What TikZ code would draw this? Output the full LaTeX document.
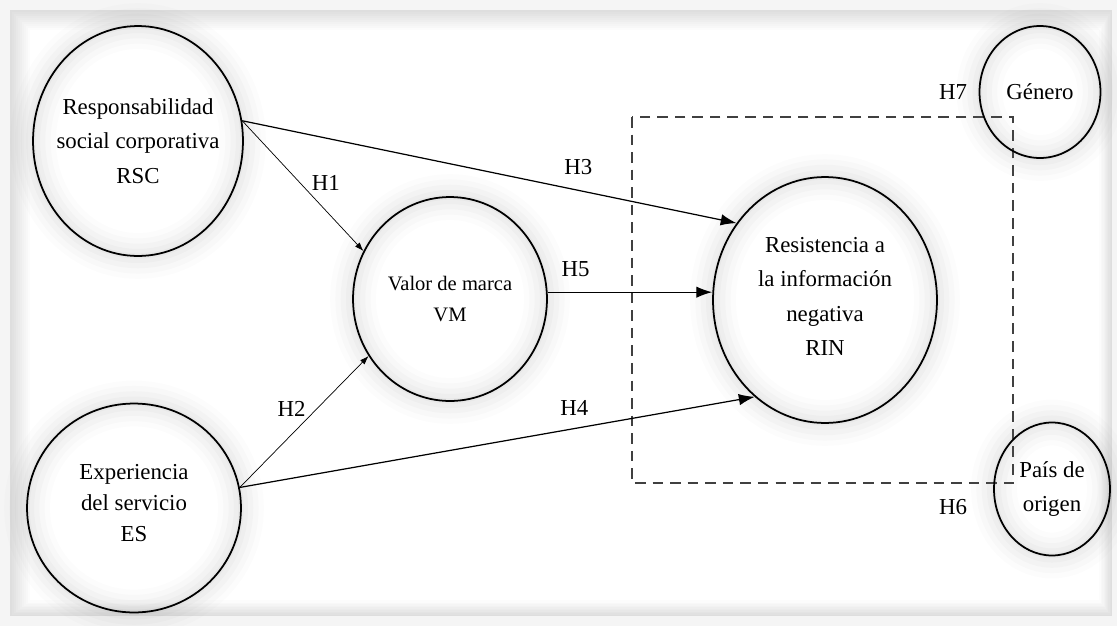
\documentclass[tikz,border=0pt]{standalone}
\usepackage{fontspec}
\setmainfont{Liberation Serif}
\usetikzlibrary{arrows.meta,shapes.geometric,positioning}
\tikzset{>={Latex[length=9pt,width=6.5pt]}}
\tikzset{construct/.style={draw,ellipse,line width=1pt,inner sep=0pt,
    preaction={draw=gray,line width=26pt,opacity=0.025},
    preaction={draw=gray,line width=20pt,opacity=0.03},
    preaction={draw=gray,line width=14pt,opacity=0.035},
    preaction={draw=gray,line width=8pt,opacity=0.04},
    preaction={draw=gray,line width=3pt,opacity=0.05}}}
\tikzset{ctext/.style={align=center,font=\fontsize{13}{19.5}\selectfont}}
\tikzset{hlab/.style={font=\fontsize{13}{15}\selectfont}}
\tikzset{thinarrow/.style={-{Latex[length=5pt,width=3.5pt]},line width=0.4pt}}
\tikzset{mainarrow/.style={->,line width=0.7pt}}
\tikzset{groupbox/.style={draw=black!75,dash pattern=on 6pt off 4pt,line width=0.7pt}}

\begin{document}
\begin{tikzpicture}[x=0.02cm,y=-0.02cm]
  % frame with soft shadow
  \useasboundingbox (0,0) rectangle (1117,626);
  \fill[gray!8] (0,0) rectangle (1117,626);
  \foreach \i [evaluate=\i as \s using 26-2.6*\i] in {0,...,9}
    \fill[gray!\s] (10+2*\i,10+2*\i) rectangle (1112-1.2*\i,616-1.5*\i);
  \fill[white] (30,30) rectangle (1099,600);

  % constructs
  \node[construct,minimum width=4.2cm,minimum height=4.6cm] (rsc) at (138,141) {};
  \node[ctext] (rsctxt) at (rsc) {Responsabilidad\\social corporativa\\RSC};
  \node[construct,minimum width=4.28cm,minimum height=4.18cm] (es) at (134,508) {};
  \node[ctext,font=\fontsize{13}{17.6}\selectfont] (estxt) at ([yshift=3pt]es) {Experiencia\\del servicio\\ES};
  \node[construct,minimum width=3.88cm,minimum height=4.08cm] (vm) at (450,299) {};
  \node[ctext,font=\fontsize{11.7}{18}\selectfont] (vmtxt) at (vm) {Valor de marca\\VM};
  \node[construct,minimum width=4.48cm,minimum height=4.92cm] (rin) at (825,300) {};
  \node[ctext] (rintxt) at ([yshift=2pt]rin) {Resistencia a\\la información\\negativa\\RIN};

  % moderators
  \draw[groupbox] (632,117) rectangle (1013,483);
  \node[construct,ctext,minimum width=2.42cm,minimum height=2.64cm] (gen) at (1040,92) {Género};
  \node[construct,ctext,minimum width=2.32cm,minimum height=2.66cm] (pais) at (1052,489) {País de\\origen};
  \node[hlab,left=3pt of gen] (h7) {H7};
  \node[hlab] (h6) at (953,507) {H6};

  % hypotheses
  \draw[thinarrow] (rsc.11) -- (vm.151) node[pos=0.48,right=3pt,hlab] {H1};
  \draw[mainarrow] (rsc.11) -- (rin.139) node[pos=0.68,above=5pt,hlab] {H3};
  \draw[mainarrow] (vm.4) -- (vm.4 -| rin.west) node[pos=0.17,above=5pt,hlab] {H5};
  \draw[thinarrow] (es.11) -- (vm.215) node[pos=0.6,left=3pt,hlab] {H2};
  \draw[mainarrow] (es.11) -- (rin.234) node[pos=0.65,above=3.5pt,hlab] {H4};
\end{tikzpicture}
\end{document}
